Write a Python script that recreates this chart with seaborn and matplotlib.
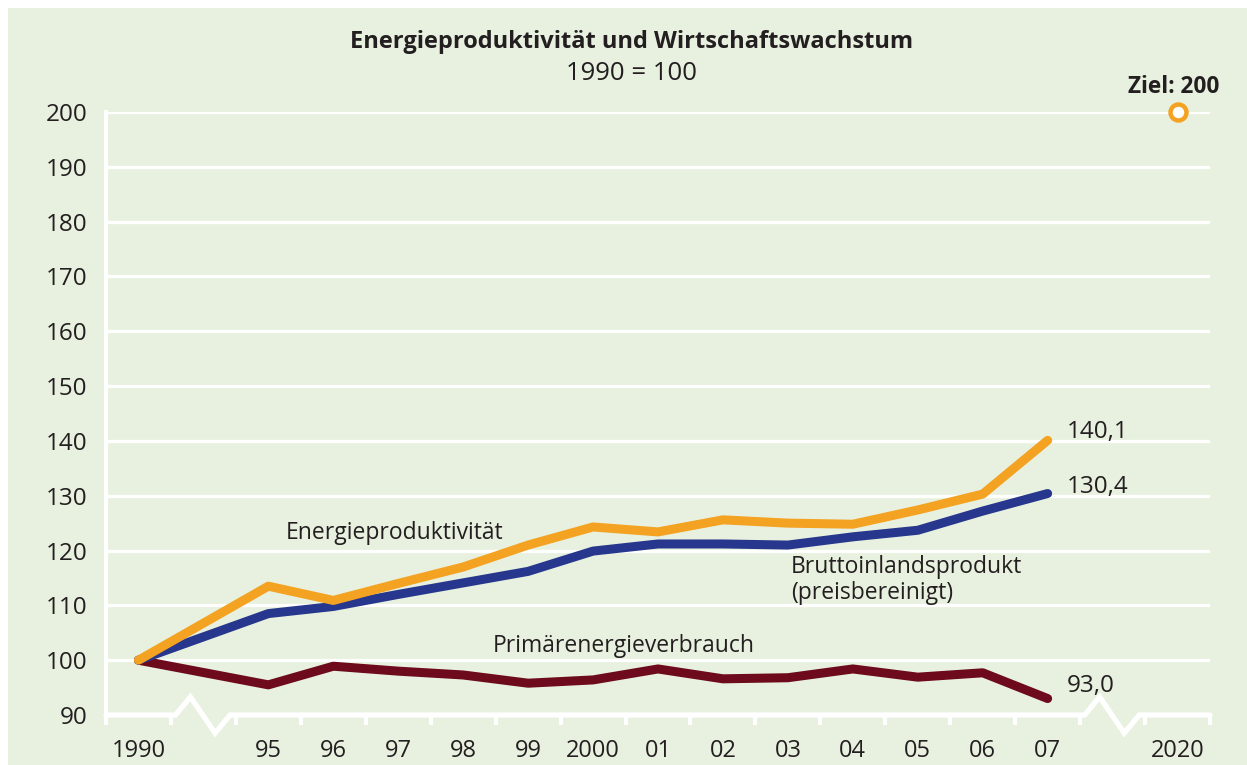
import numpy as np
import pandas as pd
import matplotlib
matplotlib.use("Agg")
import matplotlib.pyplot as plt
import seaborn as sns

# category slots on the x axis (1 and 15 are axis breaks)
years = ['1990', '95', '96', '97', '98', '99', '2000', '01', '02', '03', '04', '05', '06', '07']
slots = [0, 2, 3, 4, 5, 6, 7, 8, 9, 10, 11, 12, 13, 14]
tick_labels = years + ['2020']
tick_slots = slots + [16]

energieproduktivitaet = [100, 113.5, 110.9, 114.0, 117.0, 121.0, 124.3, 123.4, 125.6, 125.0, 124.8, 127.4, 130.3, 140.1]
bip = [100, 108.5, 109.8, 112.0, 114.1, 116.2, 119.9, 121.2, 121.2, 121.0, 122.5, 123.7, 127.2, 130.4]
pev = [100, 95.5, 98.9, 98.0, 97.3, 95.8, 96.4, 98.4, 96.6, 96.8, 98.4, 96.9, 97.7, 93.0]
ziel = 200

bg = '#e8f1df'
txt = '#231f20'
colors = {'Primärenergieverbrauch': '#6d0a1b',
          'Bruttoinlandsprodukt': '#27378d',
          'Energieproduktivität': '#f4a222'}

sns.set_style('white', {'axes.facecolor': bg})
plt.rcParams['font.family'] = ['Open Sans', 'DejaVu Sans']
plt.rcParams['text.color'] = txt

df = pd.DataFrame({
    'slot': slots * 3,
    'wert': pev + bip + energieproduktivitaet,
    'reihe': ['Primärenergieverbrauch'] * len(slots) + ['Bruttoinlandsprodukt'] * len(slots)
             + ['Energieproduktivität'] * len(slots),
})

fig = plt.figure(figsize=(12.47, 7.65), dpi=100)
fig.patch.set_facecolor('white')
fig.patches.append(plt.Rectangle((8 / 1247, 0), 1, 1 - 8 / 765, transform=fig.transFigure,
                                 facecolor=bg, edgecolor='none', zorder=-10))
ax = fig.add_axes([106 / 1247, 50 / 765, 1104 / 1247, 603 / 765])
ax.set_facecolor(bg)
ax.set_xlim(-0.5, 16.5)
ax.set_ylim(90, 200)
for s in ax.spines.values():
    s.set_visible(False)

# white grid
ax.hlines(np.arange(100, 201, 10), -0.5, 16.5, color='white', lw=2.3, zorder=1)
ax.plot([-0.5, -0.5], [200.3, 88.2], color='white', lw=3, clip_on=False, zorder=1,
        solid_capstyle='butt')
# slot separators below the baseline
ax.vlines(np.arange(0.5, 16.6, 1), 88.2, 90, color='white', lw=3, clip_on=False, zorder=2)
# baseline with axis breaks
bx = [-0.5, 0.57, 0.8, 1.18, 1.41, 14.57, 14.8, 15.18, 15.41, 16.5]
by = [90, 90, 93.3, 86.7, 90, 90, 93.3, 86.7, 90, 90]
ax.plot(bx, by, color='white', lw=3.8, clip_on=False, zorder=2, solid_joinstyle='miter')

sns.lineplot(data=df, x='slot', y='wert', hue='reihe', palette=colors,
             hue_order=list(colors), legend=False, ax=ax, lw=6.5,
             solid_capstyle='round', zorder=3)

ax.plot([16], [ziel], marker='o', ms=11.5, mew=3.2, mec=colors['Energieproduktivität'],
        mfc='white', clip_on=False, zorder=4)

ax.set_yticks(np.arange(90, 201, 10))
ax.set_xticks(tick_slots, tick_labels)
ax.tick_params(axis='y', left=False, pad=10, labelsize=17.5, labelcolor=txt)
ax.tick_params(axis='x', bottom=False, pad=14, labelsize=17, labelcolor=txt)
ax.set_xlabel('')
ax.set_ylabel('')

fs = 16.5
ax.text(3.95, 123.2, 'Energieproduktivität', ha='center', va='center', fontsize=fs)
ax.text(10.05, 114.6, 'Bruttoinlandsprodukt\n(preisbereinigt)', ha='left', va='center',
        fontsize=fs, linespacing=1.15)
ax.text(7.48, 102.6, 'Primärenergieverbrauch', ha='center', va='center', fontsize=fs)
ax.text(14.3, 141.6, '140,1', ha='left', va='center', fontsize=17.5)
ax.text(14.3, 131.6, '130,4', ha='left', va='center', fontsize=17.5)
ax.text(14.3, 95.3, '93,0', ha='left', va='center', fontsize=17.5)
ax.text(15.94, 204.6, 'Ziel: 200', ha='center', va='center', fontsize=16.3,
        fontweight='bold', clip_on=False)

fig.text(632 / 1247, 1 - 42 / 765, 'Energieproduktivität und Wirtschaftswachstum',
         ha='center', va='center', fontsize=17, fontweight='bold')
fig.text(632 / 1247, 1 - 73 / 765, '1990 = 100', ha='center', va='center', fontsize=18.5)

fig.savefig('out.png', dpi=100, facecolor=fig.get_facecolor())
